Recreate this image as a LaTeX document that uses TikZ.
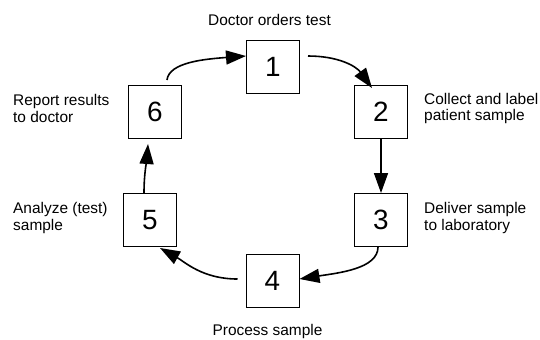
\documentclass[tikz,border=0pt]{standalone}
\usepackage{fontspec}
\setmainfont{Liberation Sans}
\usetikzlibrary{arrows.meta}
\begin{document}
\begin{tikzpicture}[x=1bp,y=-1bp,
  box/.style={draw,line width=1bp,minimum size=53bp,inner sep=0pt,font=\fontsize{28}{28}\selectfont},
  lab/.style={font=\fontsize{15.5}{17}\selectfont,align=left,inner sep=0pt},
  arr/.style={line width=1.6bp,-{Triangle[length=20bp,width=14bp]}}]
\useasboundingbox (0,0) rectangle (540,339);
\node[box] (n1) at (273,67) {1};
\node[box] (n2) at (381,112) {2};
\node[box] (n3) at (381,220) {3};
\node[box] (n4) at (272.5,281) {4};
\node[box] (n5) at (150,220) {5};
\node[box] (n6) at (155,112) {6};
\node[lab,anchor=center] (l1) at (269.5,20) {Doctor orders test};
\node[lab,anchor=west] (l2) at (424,108.5) {Collect and label\\patient sample};
\node[lab,anchor=west] (l3) at (424,218) {Deliver sample\\to laboratory};
\node[lab,anchor=center] (l4) at (267.5,331) {Process sample};
\node[lab,anchor=west] (l5) at (13,218) {Analyze (test)\\sample};
\node[lab,anchor=west] (l6) at (13,108.5) {Report results\\to doctor};
\draw[arr] ([xshift=12bp,yshift=5bp]n6.north) .. controls +(2,-18) and +(-40,3) .. ([yshift=11bp]n1.west);
\draw[arr] ([xshift=8bp,yshift=11bp]n1.east) .. controls +(30,0) and +(-16,-22) .. ([xshift=-9bp,yshift=-3bp]n2.north);
\draw[arr] (n2.south) -- (n3.north);
\draw[arr] ([xshift=-3bp]n3.south) .. controls +(0,22) and +(38,-6) .. ([yshift=2bp]n4.east);
\draw[arr] ([xshift=-8bp,yshift=2bp]n4.west) .. controls +(-35,0) and +(25,14) .. ([xshift=10bp,yshift=-1bp]n5.south);
\draw[arr] ([xshift=-6bp]n5.north) .. controls +(0,-20) and +(-1,14) .. ([xshift=-7bp,yshift=-5bp]n6.south);
\end{tikzpicture}
\end{document}
